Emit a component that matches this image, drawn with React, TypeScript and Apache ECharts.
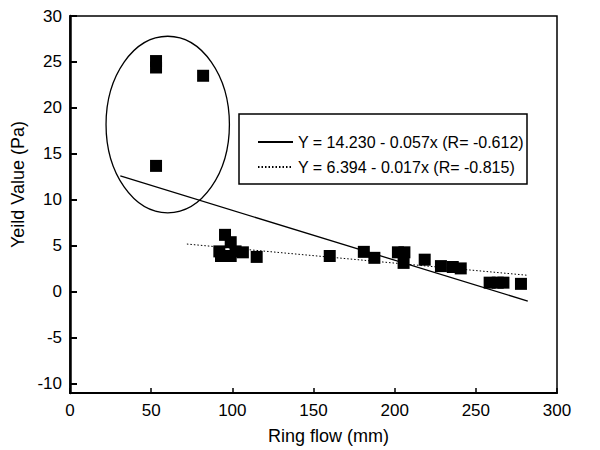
import React, { useEffect, useRef } from "react";
import * as echarts from "echarts";

const pointsX = [53, 53, 53, 82, 92, 93, 95.5, 99, 99, 102, 106.5, 115, 160, 181, 187.5, 202, 206, 205.5, 218.5, 228.5, 235.8, 240.7, 258.5, 263.5, 267, 277.8];
const pointsY = [25.1, 24.4, 13.7, 23.5, 4.4, 3.9, 6.2, 5.4, 3.9, 4.4, 4.3, 3.8, 3.9, 4.35, 3.7, 4.3, 4.3, 3.15, 3.5, 2.8, 2.7, 2.55, 1.0, 1.0, 1.0, 0.87];

const fitAllX = [31, 282];
const fitAllY = [12.6, -1.0];
const fitSubX = [72, 282];
const fitSubY = [5.2, 1.8];

const ellipseCenter = [60.2, 18.2];
const ellipseRadius = [38, 9.6];

const yTicks = [-10, -5, 0, 5, 10, 15, 20, 25, 30];
const nameAll = "Y = 14.230 - 0.057x (R= -0.612)";
const nameSub = "Y = 6.394 - 0.017x (R= -0.815)";

const FONT = "'Liberation Sans', Arial, Helvetica, sans-serif";

export default function App() {
  const ref = useRef<HTMLDivElement>(null);
  useEffect(() => {
    if (!ref.current) return;
    const chart = echarts.init(ref.current, undefined, { renderer: "svg" });
    const scatterData = pointsX.map((x, i) => [x, pointsY[i]]);
    chart.setOption({
      animation: false,
      backgroundColor: "#fff",
      textStyle: { fontFamily: FONT },
      grid: {
        left: 70,
        right: 43,
        top: 16,
        bottom: 57,
        show: true,
        borderColor: "#000",
        borderWidth: 1.5,
      },
      xAxis: {
        type: "value",
        min: 0,
        max: 300,
        interval: 50,
        name: "Ring flow (mm)",
        nameLocation: "middle",
        nameGap: 34,
        nameTextStyle: { fontSize: 18, color: "#000", fontFamily: FONT, padding: [0, 0, 0, 30] },
        axisLine: { show: true, onZero: false, lineStyle: { color: "#000", width: 2 } },
        axisTick: { inside: true, length: 5, lineStyle: { color: "#000", width: 1.5 } },
        axisLabel: { fontSize: 17, color: "#000", margin: 9, fontFamily: FONT },
        splitLine: { show: false },
      },
      yAxis: {
        type: "value",
        min: -11,
        max: 30,
        name: "Yeild Value (Pa)",
        nameLocation: "middle",
        nameGap: 31,
        nameTextStyle: { fontSize: 18, color: "#000", fontFamily: FONT, padding: [0, 0, 0, 40] },
        axisLine: { show: true, onZero: false, lineStyle: { color: "#000", width: 2.5 } },
        axisTick: { inside: true, length: 7, customValues: yTicks, lineStyle: { color: "#000", width: 2 } },
        axisLabel: { fontSize: 17, color: "#000", margin: 8, customValues: yTicks, fontFamily: FONT },
        splitLine: { show: false },
      },
      legend: {
        orient: "vertical",
        left: 252,
        top: 129,
        z: 10,
        itemWidth: 35,
        itemHeight: 14,
        itemGap: 9,
        itemStyle: { color: "transparent", borderWidth: 0, opacity: 0 },
        textStyle: { fontSize: 16, color: "#000", fontFamily: FONT },
        data: [nameAll, nameSub],
      },
      graphic: [
        {
          type: "rect",
          shape: { x: 239, y: 114, width: 288, height: 70 },
          style: { fill: "#fff", stroke: "#000", lineWidth: 1.5 },
          z: 1,
        },
      ],
      series: [
        {
          type: "custom",
          silent: true,
          data: [[ellipseCenter[0], ellipseCenter[1], ellipseRadius[0], ellipseRadius[1]]],
          renderItem: (params: any, api: any) => {
            const c = api.coord([api.value(0), api.value(1)]);
            const s = api.size([api.value(2), api.value(3)]);
            return {
              type: "ellipse",
              shape: { cx: c[0], cy: c[1], rx: s[0], ry: s[1] },
              style: { fill: "none", stroke: "#000", lineWidth: 1.3 },
            };
          },
          z: 3,
        },
        {
          type: "scatter",
          symbol: "rect",
          symbolSize: 12,
          itemStyle: { color: "#000", opacity: 1 },
          data: scatterData,
          z: 4,
        },
        {
          name: nameAll,
          type: "line",
          symbol: "none",
          data: fitAllX.map((x, i) => [x, fitAllY[i]]),
          lineStyle: { color: "#000", width: 1.3, type: "solid" },
          itemStyle: { color: "#000" },
          z: 3,
        },
        {
          name: nameSub,
          type: "line",
          symbol: "none",
          data: fitSubX.map((x, i) => [x, fitSubY[i]]),
          lineStyle: { color: "#000", width: 1, type: [1.5, 2] },
          itemStyle: { color: "#000" },
          z: 3,
        },
      ],
    });
    return () => chart.dispose();
  }, []);
  return <div ref={ref} style={{ width: 600, height: 450, marginLeft: -8, marginTop: -8 }} />;
}
